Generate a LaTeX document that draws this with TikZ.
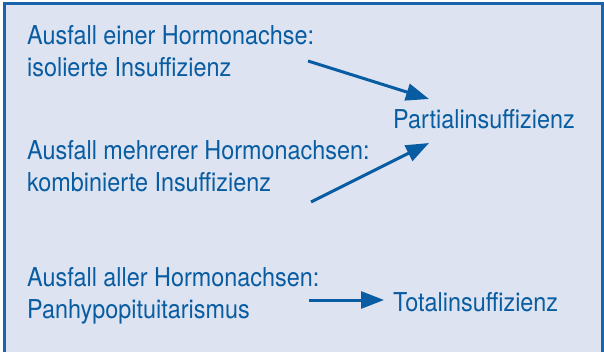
\documentclass[tikz,border=0pt]{standalone}
\usepackage{fontspec}
\newfontfamily\cond{TeX Gyre Heros}[FakeStretch=0.9]
\usetikzlibrary{arrows.meta}
\definecolor{txtblue}{RGB}{8,92,162}
\definecolor{bgblue}{RGB}{221,227,240}
\definecolor{edgeblue}{RGB}{26,100,171}
\begin{document}
\begin{tikzpicture}[x=1pt,y=-1pt,
  lbl/.style={anchor=base west,inner sep=0pt,text=txtblue,font=\cond\fontsize{26}{32}\selectfont},
  arr/.style={draw=txtblue,line width=3pt,-{Triangle[length=23pt,width=17pt]}}]
\useasboundingbox (0,0) rectangle (604,352);
\clip (0,0) rectangle (604,352);
\fill[white] (0,0) rectangle (604,352);
\draw[fill=bgblue,draw=edgeblue,line width=3pt] (4,4) rectangle (602,362);
\node[lbl] (l1) at (27,45) {Ausfall einer Hormonachse:};
\node[lbl] (l2) at (27,77) {isolierte Insuffizienz};
\node[lbl] (l3) at (27,160) {Ausfall mehrerer Hormonachsen:};
\node[lbl] (l4) at (27,192) {kombinierte Insuffizienz};
\node[lbl] (l5) at (27,286) {Ausfall aller Hormonachsen:};
\node[lbl] (l6) at (27,318) {Panhypopituitarismus};
\node[lbl] (partial) at (393,129) {Partialinsuffizienz};
\node[lbl] (total) at (393,311) {Totalinsuffizienz};
\coordinate (s1) at (308,61);
\coordinate (e1) at (429,99);
\coordinate (s2) at (311,202);
\coordinate (e2) at (429,143);
\coordinate (s3) at (309,300);
\coordinate (e3) at (384,300);
\draw[arr] (s1) -- (e1);
\draw[arr] (s2) -- (e2);
\draw[arr] (s3) -- (e3);
\end{tikzpicture}
\end{document}
